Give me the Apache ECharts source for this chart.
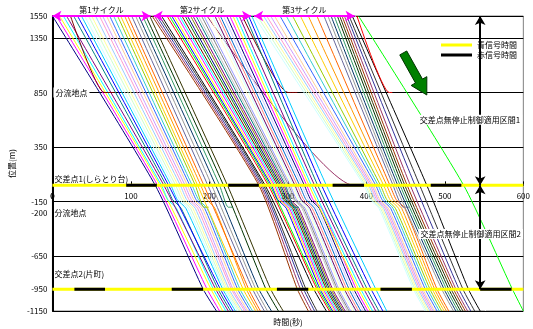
<!DOCTYPE html>
<html>
<head>
<meta charset="utf-8">
<script src="https://cdn.jsdelivr.net/npm/echarts@6/dist/echarts.min.js"></script>
<style>
  html, body { margin: 0; padding: 0; background: #fff; }
  #chart { width: 533px; height: 329px; }
</style>
</head>
<body>
<div id="chart"></div>
<script>
// 各車両の通過時刻(秒) — 位置 1550m / 0m(交差点1) / -950m(交差点2) / -1150m
const tTop = [
  0, 5, 9, 14, 18, 23, 27, 32, 37, 41, 46, 50, 55, 60, 64, 69, 73, 78, 83, 87, 92, 96, 101, 106, 110, 115, 119, 124,
  127, 130, 133, 136, 139, 142, 146, 149, 152, 155, 159, 162, 165, 169, 172, 176, 179, 183, 186, 190, 193, 197,
  200, 204, 207, 211, 214, 218, 222, 226, 230, 234, 238, 242, 246, 250, 254,
  257, 261, 265, 269, 273, 278, 283, 290, 298, 306, 316, 326, 337, 346, 351, 355, 359, 363, 366, 369,
  372, 375, 378, 382, 386, 388, 390
];
const tInt1 = [
  131, 134, 137, 139, 142, null, 145, 148, 151, 154, 157, 160, 163, 166, 169, 172, 175, 178, 182, 185,
  189, 193, 198, 203, 208, 213, 218, 223,
  263, 265, 267, 269, 271, 273, 275, 277, 279, 281, 283, 285, 287, 289, 291, 293, 295, 297, 299, 301,
  303, null, 305, 307, 309, 312, 315, 318, 321, 324, 327, 330, 334, null, 338, 343, 349,
  397, 399, 401, 403, 405, 407, 409, 412, 415, 418, 422, 426, 430, 434, 437, 440, 443, 446, 449, 452,
  456, 462, 468, 477, 481, null, 524
];
const tInt2 = [
  192, 197, 202, 205, 208, null, 211, 214, 217, 219, 221, 223, 225, 228, 230, 233, 236, 239, null, 243,
  247, 250, 255, 259, 263, null, 272, 278,
  312, 316, 320, 323, 333, 335, 337, 339, 341, 343, 345, 347, 349, 351, 353, 355, 357, null, 361, 363,
  365, null, 368, 370, 372, 375, 378, 381, 384, 387, 390, 393, 397, null, 401, 406, 412,
  460, 462, 464, 466, 468, 470, 472, 475, 478, 481, 484, 487, 490, null, 496, 499, 502, 505, 508, 511,
  514, 518, 523, 530, 536, null, 586
];
const tBottom = [
  209, 213, 217, 221, 224, null, 227, 230, 233, 236, 238, 240, 242, 245, 247, 249, 252, 255, null, 259,
  262, 265, 270, 274, 279, null, 288, 294,
  326, 330, 334, 337, 349, 351, 353, 355, 357, 359, 361, 363, 365, 367, 369, 371, 373, null, 376, 378,
  380, null, 383, 385, 387, 390, 393, 396, 399, 402, 405, 408, 412, null, 416, 421, 426,
  475, 477, 479, 481, 483, 485, 487, 490, 493, 496, 499, 502, 505, null, 511, 514, 517, 520, 523, 526,
  529, 533, 538, 545, 552, null, 600
];

// 分流地点・交差点で離脱する車両
const exitVehicle = [5, 18, 25, 45, 49, 61, 78, 90];
const exitPos = [850, -200, -200, -200, 0, 850, -200, 850];
const exitArrive = [66, 193, 224, 308, 384, 300, 447, 429];
const exitEnd = [80, 199, 230, 314, 392, 312, 455, 433];

// 分流地点手前で減速する車両 (-130m と -210m の通過時刻)
const slowVehicle = [3, 6, 8, 9, 10, 11, 12, 13, 14, 15, 16, 17, 20,
  36, 37, 38, 39, 40, 41, 42, 43, 44, 46, 47, 48, 50, 51, 52, 53, 54, 55, 56, 57,
  65, 66, 67, 68, 69, 70, 71, 72, 73, 74, 75, 76, 77];
const slowIn = [147, 153, 159, 162, 165, 168, 171, 174, 177, 180, 183, 186, 197,
  287, 289, 291, 293, 295, 297, 299, 301, 303, 307, 309, 311, 313, 315, 317, 320, 323, 326, 329, 332,
  405, 407, 409, 411, 413, 415, 417, 420, 423, 426, 430, 434, 438];
const slowOut = [158, 164, 170, 173, 176, 179, 182, 185, 188, 191, 194, 197, 207,
  298, 300, 302, 304, 306, 308, 310, 312, 314, 318, 320, 322, 324, 326, 328, 331, 334, 337, 340, 343,
  416, 418, 420, 422, 424, 426, 428, 431, 434, 437, 441, 445, 449];

// 信号 (赤信号の開始・終了時刻)
const int1RedStart = [94, 224, 357, 482];
const int1RedEnd = [133, 263, 397, 521];
const int2RedStart = [28, 152, 286, 418, 545];
const int2RedEnd = [67, 192, 326, 458, 585];

const cycleNames = ['第1サイクル', '第2サイクル', '第3サイクル'];
const cycleFrom = [0, 129, 257];
const cycleTo = [125, 253, 385];

const sectionNames = ['交差点無停止制御適用区間1', '交差点無停止制御適用区間2'];
const sectionFrom = [1550, 0];
const sectionTo = [0, -950];

const yTickValues = [1550, 1350, 850, 350, -150, -650, -950, -1150];

const POS_TOP = 1550, POS_INT1 = 0, POS_SLOW_IN = -130, POS_SLOW_OUT = -210, POS_INT2 = -950, POS_BOTTOM = -1150;
const SECTION_T = 545;
const FONT = '"Noto Sans CJK JP", "Noto Sans", sans-serif';

// Excel 既定の系列色の順
const palette = [
  '#000080', '#FF00FF', '#FFFF00', '#00FFFF', '#800080', '#800000', '#008080', '#0000FF',
  '#00CCFF', '#CCFFFF', '#CCFFCC', '#FFFF99', '#99CCFF', '#FF99CC', '#CC99FF', '#FFCC99',
  '#3366FF', '#33CCCC', '#99CC00', '#FFCC00', '#FF9900', '#FF6600', '#666699', '#969696',
  '#003366', '#339966', '#003300', '#333300', '#993300', '#993366', '#333399', '#333333',
  '#000000', '#FFFFFF', '#FF0000', '#00FF00', '#0000FF', '#FFFF00', '#FF00FF', '#00FFFF',
  '#800000', '#008000', '#000080', '#808000', '#800080', '#008080', '#C0C0C0', '#808080',
  '#9999FF', '#993366', '#FFFFCC', '#CCFFFF', '#660066', '#FF8080', '#0066CC', '#CCCCFF'
];

function vehiclePath(i) {
  const pts = [[tTop[i], POS_TOP]];
  const e = exitVehicle.indexOf(i);
  const s = slowVehicle.indexOf(i);
  if (e >= 0 && exitPos[e] >= POS_INT1) {
    pts.push([exitArrive[e], exitPos[e]], [exitEnd[e], exitPos[e]]);
    return pts;
  }
  pts.push([tInt1[i], POS_INT1]);
  if (s >= 0) pts.push([slowIn[s], POS_SLOW_IN], [slowOut[s], POS_SLOW_OUT]);
  if (e >= 0) {
    pts.push([exitArrive[e], exitPos[e]], [exitEnd[e], exitPos[e]]);
    return pts;
  }
  pts.push([tInt2[i], POS_INT2], [tBottom[i], POS_BOTTOM]);
  return pts;
}

const series = [];

tTop.forEach((t, i) => {
  const c = palette[i % palette.length];
  series.push({
    type: 'line',
    data: vehiclePath(i),
    symbol: 'none',
    smooth: 0.2,
    silent: true,
    color: c,
    lineStyle: { width: 1, color: c },
    z: 2
  });
});

// 青信号 (黄色) 線
[POS_INT1, POS_INT2].forEach(p => {
  series.push({
    name: '青信号時間',
    type: 'line',
    data: [[0, p], [600, p]],
    symbol: 'none',
    silent: true,
    color: '#FFFF00',
    lineStyle: { width: 3, color: '#FFFF00' },
    z: 3
  });
});

// 赤信号 (黒) 線
function redSegments(starts, ends, p) {
  starts.forEach((s, k) => {
    series.push({
      name: '赤信号時間',
      type: 'line',
      data: [[s, p], [ends[k], p]],
      symbol: 'none',
      silent: true,
      color: '#000',
      lineStyle: { width: 3, color: '#000' },
      z: 4
    });
  });
}
redSegments(int1RedStart, int1RedEnd, POS_INT1);
redSegments(int2RedStart, int2RedEnd, POS_INT2);

// サイクル矢印
series.push({
  type: 'line',
  data: [],
  silent: true,
  clip: false,
  z: 6,
  markLine: {
    silent: true,
    symbol: ['arrow', 'arrow'],
    symbolSize: [8, 9],
    lineStyle: { color: '#FF00FF', width: 2, type: 'solid' },
    label: {
      show: true,
      position: 'insideMiddleTop',
      distance: 2,
      formatter: '{b}',
      color: '#000',
      fontSize: 8,
      fontFamily: FONT
    },
    data: cycleNames.map((n, i) => [
      { name: n, coord: [cycleFrom[i], POS_TOP] },
      { coord: [cycleTo[i], POS_TOP] }
    ])
  }
});

// 区間矢印
series.push({
  type: 'line',
  data: [],
  silent: true,
  clip: false,
  z: 6,
  markLine: {
    silent: true,
    symbol: ['arrow', 'arrow'],
    symbolSize: [8, 9],
    lineStyle: { color: '#000', width: 2, type: 'solid' },
    label: { show: false },
    data: sectionNames.map((n, i) => [
      { coord: [SECTION_T, sectionFrom[i]] },
      { coord: [SECTION_T, sectionTo[i]] }
    ])
  }
});

const chart = echarts.init(document.getElementById('chart'));

chart.setOption({
  animation: false,
  backgroundColor: '#fff',
  textStyle: { fontFamily: FONT },
  grid: {
    left: 49, right: 7, top: 16, bottom: 18,
    show: true, borderColor: '#808080', borderWidth: 1
  },
  legend: {
    data: ['青信号時間', '赤信号時間'],
    orient: 'vertical',
    left: 441,
    top: 41,
    icon: 'rect',
    itemWidth: 31,
    itemHeight: 3,
    itemGap: 2,
    padding: 0,
    selectedMode: false,
    textStyle: { fontSize: 8, color: '#000', fontFamily: FONT }
  },
  xAxis: {
    type: 'value',
    min: 0,
    max: 600,
    interval: 100,
    axisLine: { onZero: false, lineStyle: { color: '#000' } },
    axisTick: { inside: true, length: 4, lineStyle: { color: '#000' } },
    axisLabel: {
      showMinLabel: true, showMaxLabel: true, hideOverlap: false,
      fontSize: 8, color: '#000', margin: 7, fontFamily: FONT
    },
    splitLine: { show: false }
  },
  yAxis: {
    type: 'value',
    min: -1150,
    max: 1550,
    interval: 500,
    name: '位置(m)',
    nameLocation: 'middle',
    nameGap: 32,
    nameRotate: 90,
    nameTextStyle: { fontSize: 8, color: '#000', fontFamily: FONT },
    axisLine: { show: true, onZero: false, lineStyle: { color: '#000', width: 2 } },
    axisTick: { show: false },
    axisLabel: {
      customValues: yTickValues,
      formatter: v => String(v),
      fontSize: 8, color: '#000', margin: 5, fontFamily: FONT
    },
    splitLine: { show: true, lineStyle: { color: '#000', width: 1 } }
  },
  series: series
});

// 注記
const px = (t, p) => chart.convertToPixel({ gridIndex: 0 }, [t, p]);
const font8 = '8px ' + FONT;

function note(text, at, align, bg, vAlign) {
  return {
    type: 'text',
    z: 20,
    silent: true,
    style: {
      x: at[0], y: at[1], text: text, font: font8, fill: '#000',
      align: align, verticalAlign: vAlign || 'middle',
      backgroundColor: bg ? '#fff' : 'transparent', padding: bg ? [1, 2] : 0
    }
  };
}

const gridLeft = px(0, 0)[0];
const zeroY = px(0, POS_INT1)[1];
const gridBottom = px(0, POS_BOTTOM)[1];

// 緑の矢印
const tail = px(447, 1212), tip = px(477, 827);
const dx = tip[0] - tail[0], dy = tip[1] - tail[1];
const len = Math.sqrt(dx * dx + dy * dy);
const ux = dx / len, uy = dy / len, nx = -uy, ny = ux;
const headLen = 16, shaftW = 4, headW = 9;
const neck = [tip[0] - ux * headLen, tip[1] - uy * headLen];
const arrowPts = [
  [tail[0] + nx * shaftW, tail[1] + ny * shaftW],
  [neck[0] + nx * shaftW, neck[1] + ny * shaftW],
  [neck[0] + nx * headW, neck[1] + ny * headW],
  tip,
  [neck[0] - nx * headW, neck[1] - ny * headW],
  [neck[0] - nx * shaftW, neck[1] - ny * shaftW],
  [tail[0] - nx * shaftW, tail[1] - ny * shaftW]
];

chart.setOption({
  // 時間軸を位置 0m に置く
  xAxis: { offset: zeroY - gridBottom },
  graphic: [
    // 原点の "0" は ECharts 側で隠れるので文字で補う
    note('0', [gridLeft, zeroY + 7], 'center', false, 'top'),
    note('分流地点', [gridLeft + 1, px(0, 850)[1]], 'left', true),
    note('-200', [gridLeft - 5, px(0, -250)[1]], 'right', false),
    note('分流地点', [gridLeft + 2, px(0, -250)[1]], 'left', false),
    note('交差点1(しらとり台)', [gridLeft + 2, px(0, 60)[1]], 'left', false),
    note('交差点2(片町)', [gridLeft + 2, px(0, -810)[1]], 'left', false),
    note(sectionNames[0], px(532, 600), 'center', true),
    note(sectionNames[1], px(533, -445), 'center', true),
    note('時間(秒)', [px(300, 0)[0], gridBottom + 11], 'center', false),
    {
      type: 'polygon',
      z: 20,
      silent: true,
      shape: { points: arrowPts },
      style: { fill: '#008000', stroke: '#003300', lineWidth: 1 }
    }
  ]
});
</script>
</body>
</html>
